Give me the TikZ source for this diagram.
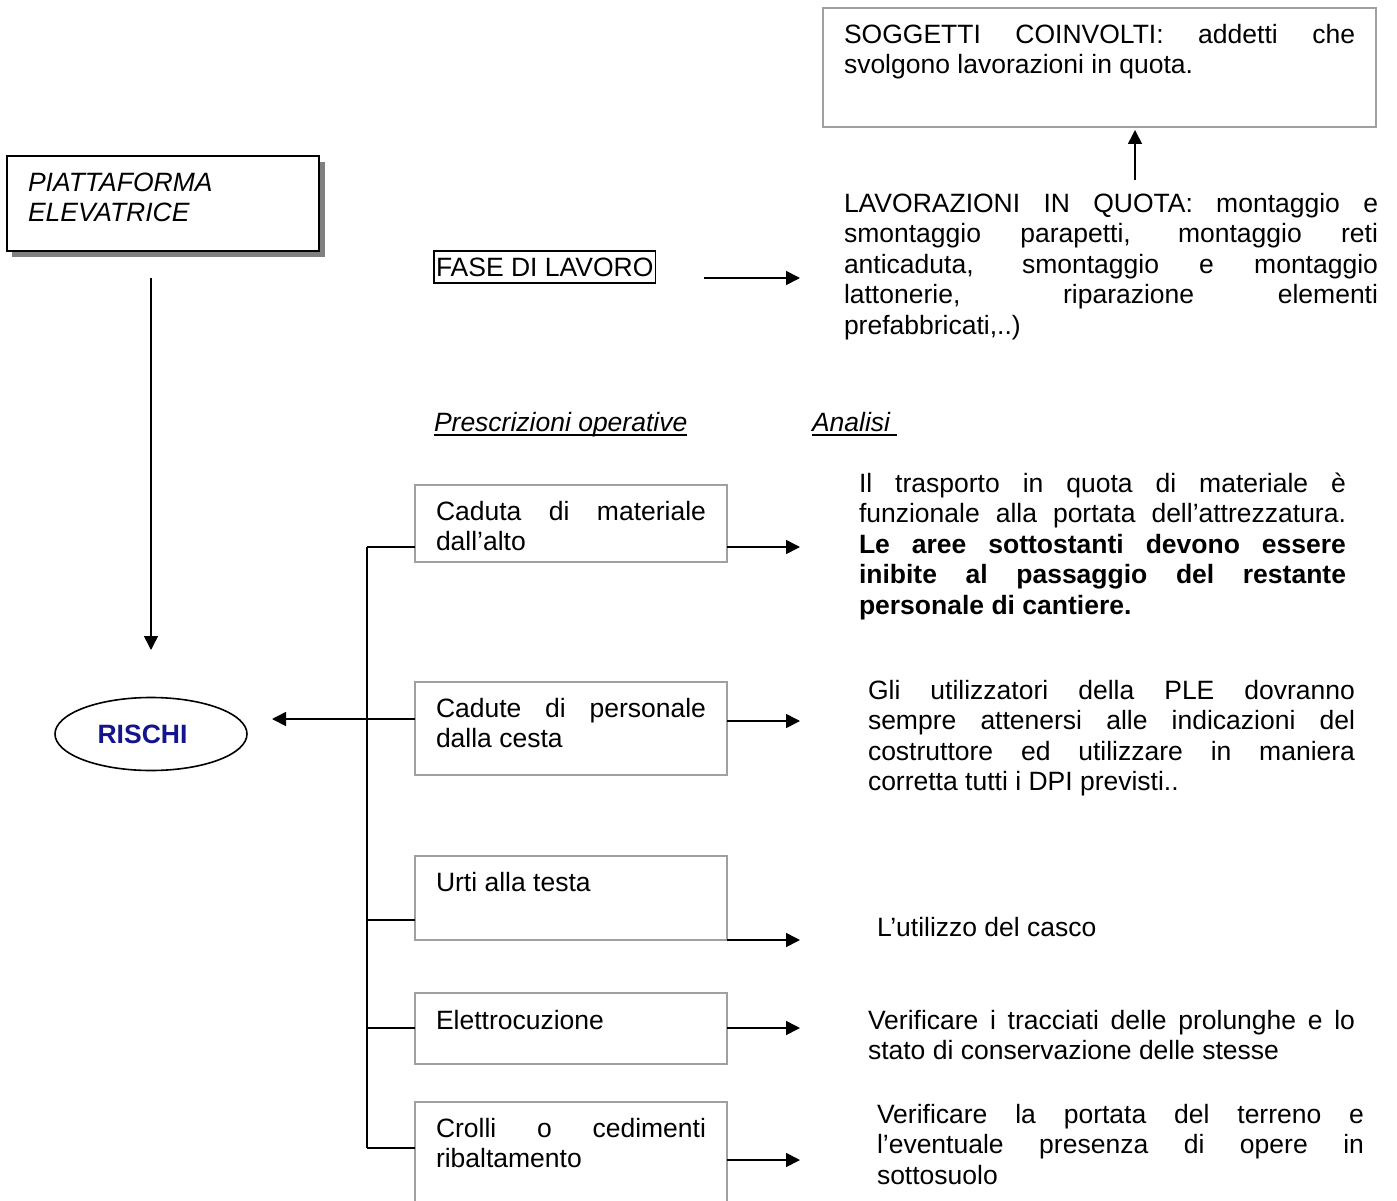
\documentclass[tikz,border=0pt]{standalone}
\usepackage{fontspec}
\setmainfont{Liberation Sans}
\usetikzlibrary{arrows.meta,shapes.geometric}
\definecolor{boxgray}{RGB}{160,160,160}
\definecolor{shadowgray}{RGB}{128,128,128}
\definecolor{riskblue}{RGB}{20,20,140}
% underline drawn through the descenders, as in a word processor
\newcommand\ulword[1]{\setbox0=\hbox{#1}\rlap{\rule[-4pt]{\wd0}{1.4pt}}\box0}
\begin{document}
\begin{tikzpicture}[x=1pt,y=-1pt,
  every node/.style={inner sep=0pt,outer sep=0pt},
  basefont/.style={font=\fontsize{26.5}{30.5}\selectfont},
  txt/.style={basefont,anchor=north west,align=justify,
    execute at begin node={\hyphenpenalty=10000\exhyphenpenalty=10000\tolerance=10000\strut}},
  lbl/.style={basefont,anchor=base west},
  riskbox/.style={draw=boxgray,line width=1.8pt,rectangle,anchor=north west,
    minimum width=312pt},
  conn/.style={line width=1.6pt,black},
  arr/.style={conn,-{Triangle[length=14pt,width=14pt]}}
]
\useasboundingbox (0,0) rectangle (1397,1201);
\clip (0,0) rectangle (1397,1201);

% machine box with its drop shadow
\fill[shadowgray] (12,162) rectangle (325,257);
\node[draw,fill=white,line width=1.8pt,anchor=north west,
  minimum width=312pt,minimum height=95pt] (piatt) at (7,156) {};
\node[txt,text width=280pt,align=left] (piattT) at (28,170)
  {\itshape PIATTAFORMA\\ELEVATRICE};

% risks ellipse
\node[draw,ellipse,line width=1.6pt,minimum width=192pt,minimum height=73pt,
  basefont] (rischi) at (151,734)
  {\bfseries\color{riskblue}RISCHI\kern17pt};

% work phase
\node[draw,line width=1.3pt,anchor=north west,inner xsep=2pt,
  minimum height=32pt,basefont] (fase) at (434,251) {FASE DI LAVORO};

% involved workers
\node[draw=boxgray,line width=1.8pt,anchor=north west,
  minimum width=553pt,minimum height=119pt] (sogg) at (823,8) {};
\node[txt,text width=511pt] (soggT) at (844,22)
  {SOGGETTI COINVOLTI: addetti che\linebreak svolgono lavorazioni in quota.};

\node[txt,text width=534pt] (lav) at (844,191)
  {LAVORAZIONI IN QUOTA: montaggio e\linebreak
   smontaggio parapetti, montaggio reti\linebreak
   anticaduta, smontaggio e montaggio\linebreak
   lattonerie, riparazione elementi\linebreak
   prefabbricati,..)};

% column headings
\node[lbl] (hPresc) at (434,431.5) {\ulword{\itshape Prescrizioni operative}};
\node[lbl] (hAnal) at (812,431.5) {\ulword{\itshape Analisi\ }};

% risk boxes
\node[riskbox,minimum height=77pt] (b1) at (415,485) {};
\node[txt,text width=270pt] (b1T) at (436,499)
  {Caduta di materiale\linebreak dall’alto};
\node[riskbox,minimum height=93pt] (b2) at (415,682) {};
\node[txt,text width=270pt] (b2T) at (436,696)
  {Cadute di personale\linebreak dalla cesta};
\node[riskbox,minimum height=84pt] (b3) at (415,856) {};
\node[lbl] (b3T) at (436,891.5) {Urti alla testa};
\node[riskbox,minimum height=71pt] (b4) at (415,993) {};
\node[lbl] (b4T) at (436,1029.5) {Elettrocuzione};
\node[riskbox,minimum height=130pt] (b5) at (415,1102) {};
\node[txt,text width=270pt] (b5T) at (436,1116)
  {Crolli o cedimenti\linebreak ribaltamento};

% analysis texts
\node[txt,text width=487pt] (a1) at (859,471)
  {Il trasporto in quota di materiale è\linebreak
   funzionale alla portata dell’attrezzatura.\linebreak
   \textbf{Le aree sottostanti devono essere\linebreak
   inibite al passaggio del restante\linebreak
   personale di cantiere.}};
\node[txt,text width=487pt] (a2) at (868,678)
  {Gli utilizzatori della PLE dovranno\linebreak
   sempre attenersi alle indicazioni del\linebreak
   costruttore ed utilizzare in maniera\linebreak
   corretta tutti i DPI previsti..};
\node[lbl] (a3) at (877,936.5) {L’utilizzo del casco};
\node[txt,text width=487pt] (a4) at (868,1008)
  {Verificare i tracciati delle prolunghe e lo\linebreak
   stato di conservazione delle stesse};
\node[txt,text width=487pt] (a5) at (877,1102)
  {Verificare la portata del terreno e\linebreak
   l’eventuale presenza di opere in\linebreak
   sottosuolo};

% connector end points
\coordinate (pTop) at (151,278);
\coordinate (pTip) at (151,650);
\coordinate (fA) at (704,278);
\coordinate (fTip) at (800,278);
\coordinate (lTop) at (1135,180);
\coordinate (sTip) at (1135,130);
\coordinate (rTip) at (272,719);
\coordinate (busTop) at (367,547);
\coordinate (j3) at (367,920);
\coordinate (j4) at (367,1028);
\coordinate (busBot) at (367,1148);
\coordinate (t1) at (800,547);
\coordinate (t2) at (800,721);
\coordinate (t3) at (800,940);
\coordinate (t4) at (800,1028);
\coordinate (t5) at (800,1160);

% connectors
\draw[arr] (pTop) -- (pTip);
\draw[arr] (fA) -- (fTip);
\draw[arr] (lTop) -- (sTip);
\draw[conn] (busTop) -- (busBot);
\draw[conn] (b1.west |- busTop) -- (busTop);
\draw[arr] (b2.west |- rTip) -- (rTip);
\draw[conn] (b3.west |- j3) -- (j3);
\draw[conn] (b4.west |- j4) -- (j4);
\draw[conn] (b5.west |- busBot) -- (busBot);
\draw[arr] (b1.east |- t1) -- (t1);
\draw[arr] (b2.east |- t2) -- (t2);
\draw[arr] (b3.east |- t3) -- (t3);
\draw[arr] (b4.east |- t4) -- (t4);
\draw[arr] (b5.east |- t5) -- (t5);
\end{tikzpicture}
\end{document}
